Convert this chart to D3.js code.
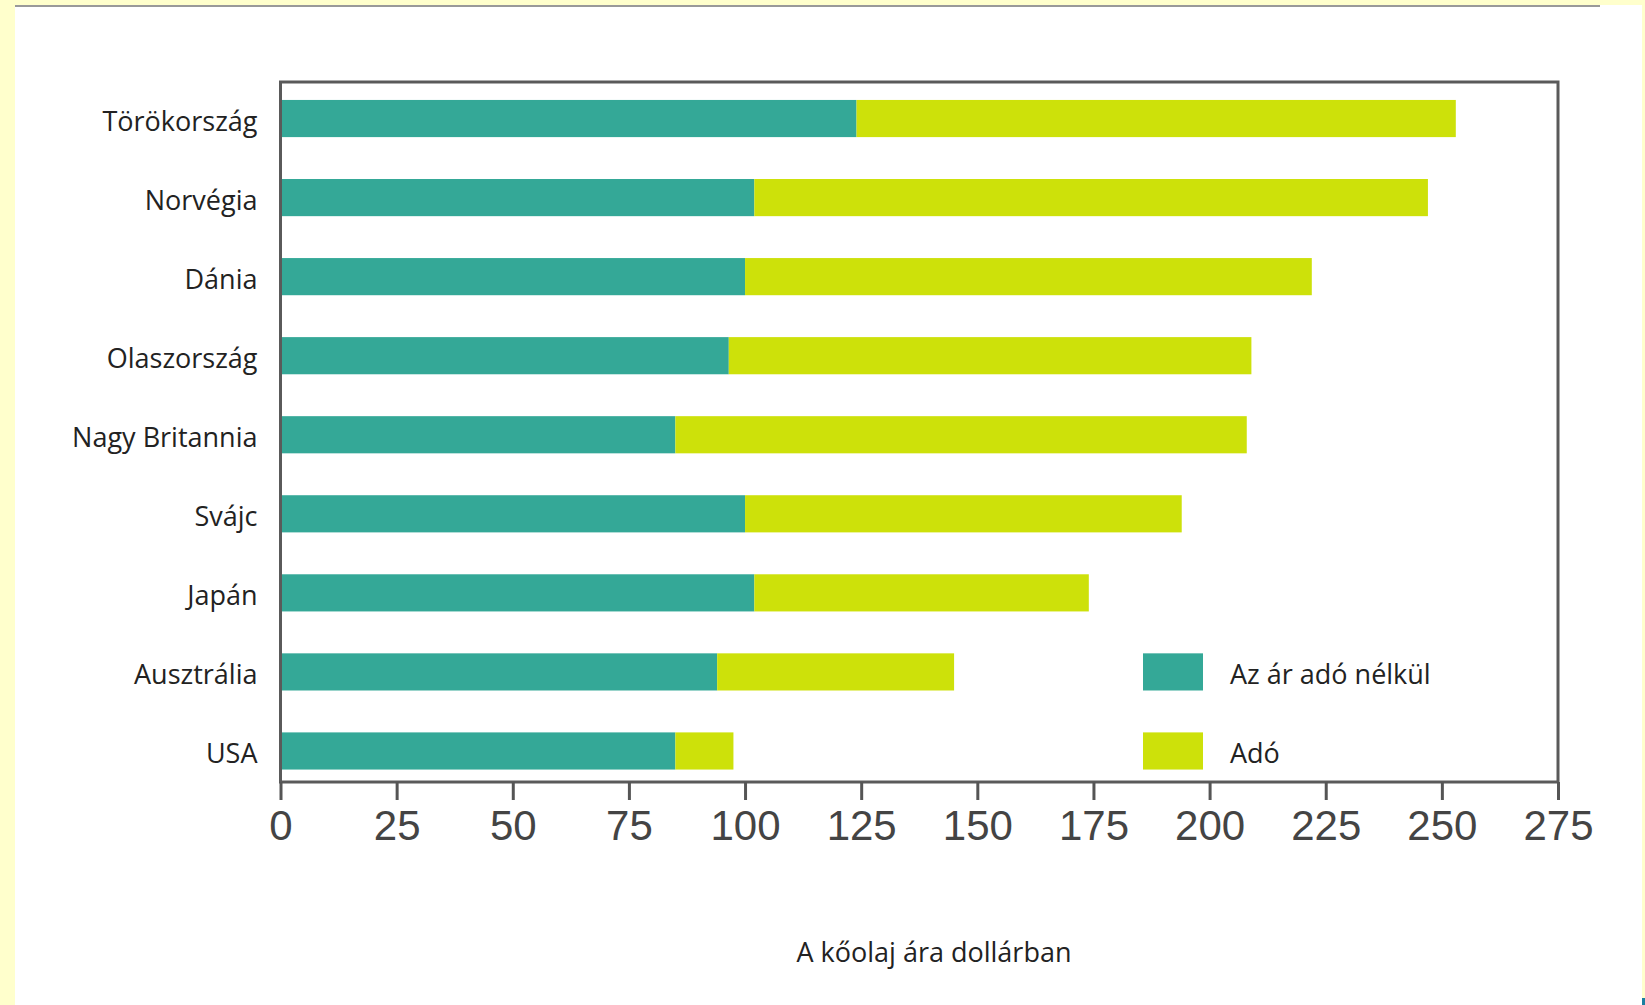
<!DOCTYPE html>
<html>
<head>
<meta charset="utf-8">
<script src="https://cdn.jsdelivr.net/npm/d3@7"></script>
<style>
    html, body { margin: 0; padding: 0; background: #ffffcc; }
    .axis--x path, .axis--x line { stroke: #555; stroke-width: 3px; }
    .axis--x text { fill: #444; font-family: "Liberation Sans", Arial, sans-serif; font-size: 42px; }
    .label { font-family: "Open Sans", "Noto Sans", sans-serif; font-size: 27px; fill: #222; }
</style>
</head>
<body>
<div id="chart_div"></div>
<script>

// values (dollars)
var countries = ["Törökország", "Norvégia", "Dánia", "Olaszország", "Nagy Britannia", "Svájc", "Japán", "Ausztrália", "USA"];
var priceNoTax = [124, 102, 100, 96.5, 85, 100, 102, 94, 85];
var taxValues = [129, 145, 122, 112.5, 123, 94, 72, 51, 12.5];
var xTicks = [0, 25, 50, 75, 100, 125, 150, 175, 200, 225, 250, 275];
var seriesKeys = ["noTax", "tax"];
var seriesNames = ["Az ár adó nélkül", "Adó"];
var seriesColors = ["#34a897", "#cde10a"];
var xTitle = "A kőolaj ára dollárban";

var svg = d3.select("#chart_div").append("svg").attr("width", 1645).attr("height", 1005),
        frame = {top: 82, bottom: 782};

// page background: yellow edge, white sheet
svg.append("rect").attr("width", 1645).attr("height", 1005).attr("fill", "#ffffcc");
svg.append("rect").attr("x", 15).attr("y", 5).attr("width", 1627).attr("height", 1000).attr("fill", "#fff");
svg.append("line").attr("x1", 15).attr("x2", 1600).attr("y1", 6).attr("y2", 6)
        .attr("stroke", "#999").attr("stroke-width", 2);
svg.append("rect").attr("x", 1642).attr("y", 998).attr("width", 3).attr("height", 7).attr("fill", "#1a7fa0");

var x = d3.scaleLinear()
        .domain([0, 275])
        .range([280.5, 1558]);

var y = d3.scaleBand()
        .domain(countries)
        .range([79, 790.5])
        .paddingInner(0.53)
        .paddingOuter(0.265);

var table = countries.map(function (c, i) {
    return {country: c, noTax: priceNoTax[i], tax: taxValues[i]};
});

var stacked = d3.stack().keys(seriesKeys)(table);

// bars
svg.append("g")
        .selectAll("g")
        .data(stacked)
        .enter().append("g")
        .attr("fill", function (d, i) {
            return seriesColors[i];
        })
        .selectAll("rect")
        .data(function (d) {
            return d;
        })
        .enter().append("rect")
        .attr("x", function (d) {
            return x(d[0]);
        })
        .attr("width", function (d) {
            return x(d[1]) - x(d[0]);
        })
        .attr("y", function (d) {
            return y(d.data.country);
        })
        .attr("height", y.bandwidth());

// frame round the plot
svg.append("rect")
        .attr("x", x(0))
        .attr("y", frame.top)
        .attr("width", x(275) - x(0))
        .attr("height", frame.bottom - frame.top)
        .attr("fill", "none")
        .attr("stroke", "#5a5a5a")
        .attr("stroke-width", 3);

// x axis
svg.append("g")
        .attr("class", "axis axis--x")
        .attr("transform", "translate(0," + frame.bottom + ")")
        .call(d3.axisBottom(x).tickValues(xTicks).tickSizeInner(18).tickSizeOuter(0).tickPadding(10))
        .call(function (g) {
            g.select(".domain").remove();
        });

// country labels
svg.append("g")
        .selectAll("text")
        .data(countries)
        .enter().append("text")
        .attr("class", "label")
        .attr("x", x(0) - 23)
        .attr("y", function (d) {
            return y(d) + y.bandwidth() / 2 + 12;
        })
        .style("text-anchor", "end")
        .text(function (d) {
            return d;
        });

// legend, lined up with the two lowest bars
var legendRows = [countries[7], countries[8]];
var legend = svg.append("g")
        .selectAll("g")
        .data(seriesNames)
        .enter().append("g");

legend.append("rect")
        .attr("x", 1143)
        .attr("y", function (d, i) {
            return y(legendRows[i]);
        })
        .attr("width", 60)
        .attr("height", y.bandwidth())
        .attr("fill", function (d, i) {
            return seriesColors[i];
        });

legend.append("text")
        .attr("class", "label")
        .attr("x", 1230)
        .attr("y", function (d, i) {
            return y(legendRows[i]) + y.bandwidth() / 2 + 12;
        })
        .text(function (d) {
            return d;
        });

svg.append("text")
        .attr("class", "label")
        .attr("x", 934)
        .attr("y", 962)
        .style("text-anchor", "middle")
        .text(xTitle);

</script>
</body>
</html>
